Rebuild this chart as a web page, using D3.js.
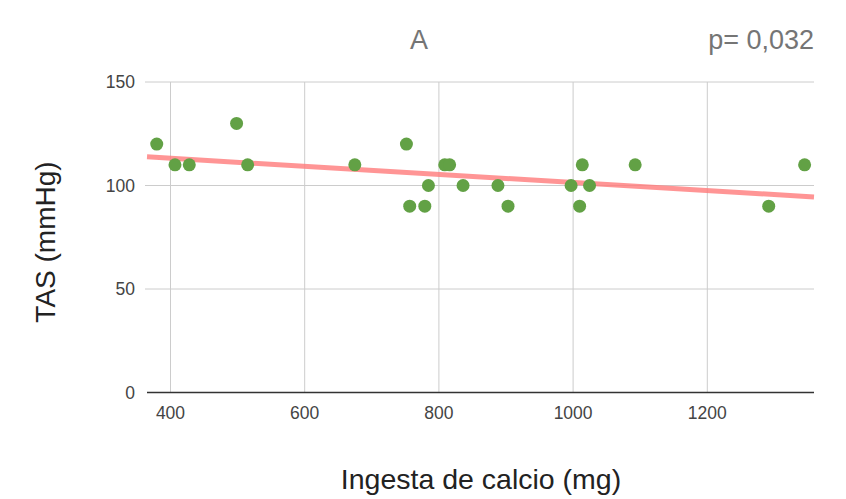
<!DOCTYPE html>
<html><head><meta charset="utf-8">
<script src="https://cdn.jsdelivr.net/npm/d3@7"></script>
<style>body{margin:0;background:#fff;}svg{display:block;font-family:"Liberation Sans",Arial,sans-serif;}</style>
</head><body>
<svg id="c" width="846" height="499"></svg>
<script>
const calcio = [379.5, 406.7, 428, 498.5, 515, 674.7, 751.6, 756.5, 779, 784.4, 808.7, 816, 836, 888, 903, 997, 1009.7, 1013.7, 1024.5, 1092.5, 1291.5, 1345];
const tas    = [120,   110,   110, 130,   110, 110,   120,   90,    90,  100,   110,   110, 100, 100, 90,  100, 90,     110,    100,    110,    90,     110];
const xTicks = [400, 600, 800, 1000, 1200];
const yTicks = [0, 50, 100, 150];
const titleText = "A";
const pText = "p= 0,032";

const svg = d3.select("#c");
const x = d3.scaleLinear().domain([365, 1359]).range([147, 814]);
const y = d3.scaleLinear().domain([0, 150]).range([392.5, 82]);

// gridlines
svg.append("g").selectAll("line.v").data(xTicks).join("line")
  .attr("x1", d => x(d)).attr("x2", d => x(d)).attr("y1", 82).attr("y2", 392.5)
  .attr("stroke", "#cccccc").attr("stroke-width", 1);
svg.append("g").selectAll("line.h").data(yTicks.filter(d => d > 0)).join("line")
  .attr("x1", 145).attr("x2", 814).attr("y1", d => y(d)).attr("y2", d => y(d))
  .attr("stroke", "#cccccc").attr("stroke-width", 1);

// trendline (least squares)
const n = calcio.length;
const mx = d3.mean(calcio), my = d3.mean(tas);
let sxy = 0, sxx = 0;
for (let i = 0; i < n; i++) { sxy += (calcio[i]-mx)*(tas[i]-my); sxx += (calcio[i]-mx)**2; }
const b = sxy / sxx, a = my - b * mx;
const [d0, d1] = x.domain();
svg.append("line")
  .attr("x1", x(d0)).attr("y1", y(a + b*d0)).attr("x2", x(d1)).attr("y2", y(a + b*d1))
  .attr("stroke", "#ff7b7b").attr("stroke-opacity", 0.8).attr("stroke-width", 5);

// points
svg.append("g").selectAll("circle").data(calcio.map((c, i) => [c, tas[i]])).join("circle")
  .attr("cx", d => x(d[0])).attr("cy", d => y(d[1])).attr("r", 6.5).attr("fill", "#62a145");

// axis baseline
svg.append("line").attr("x1", 147).attr("x2", 814).attr("y1", 392.5).attr("y2", 392.5)
  .attr("stroke", "#333").attr("stroke-width", 1.5);

// tick labels
svg.append("g").selectAll("text").data(xTicks).join("text")
  .attr("x", d => x(d)).attr("y", 419).attr("text-anchor", "middle")
  .attr("font-size", 17.5).attr("fill", "#444").text(d => d);
svg.append("g").selectAll("text").data(yTicks).join("text")
  .attr("x", 135).attr("y", d => y(d) + 6).attr("text-anchor", "end")
  .attr("font-size", 17.5).attr("fill", "#444").text(d => d);

// titles
svg.append("text").attr("x", 419).attr("y", 49).attr("text-anchor", "middle")
  .attr("font-size", 27).attr("fill", "#757575").text(titleText);
svg.append("text").attr("x", 814).attr("y", 49).attr("text-anchor", "end")
  .attr("font-size", 27).attr("fill", "#757575").text(pText);
svg.append("text").attr("x", 481).attr("y", 489).attr("text-anchor", "middle")
  .attr("font-size", 28.5).attr("fill", "#222").text("Ingesta de calcio (mg)");
svg.append("text").attr("transform", "translate(55,242) rotate(-90)").attr("text-anchor", "middle")
  .attr("font-size", 28).attr("fill", "#222").text("TAS (mmHg)");
</script>
</body></html>
